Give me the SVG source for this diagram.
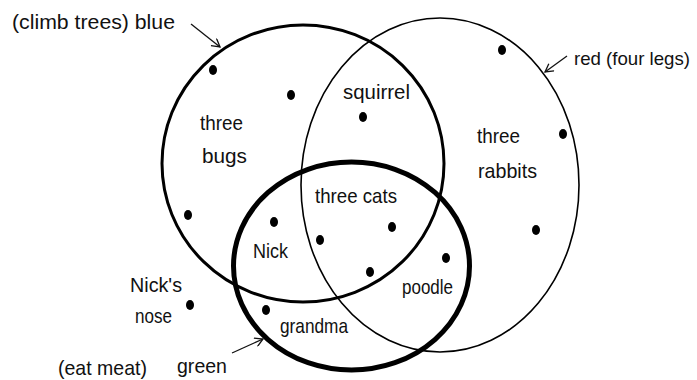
<svg xmlns="http://www.w3.org/2000/svg" width="697" height="380" viewBox="0 0 697 380">
<defs>
<style>
text{font-family:"Liberation Sans","DejaVu Sans",sans-serif;font-size:21px;fill:#111}
.dot{fill:#000}
.arr{fill:none;stroke:#111;stroke-width:1.3}
</style>
<marker id="ah" viewBox="0 0 10 10" refX="9" refY="5" markerWidth="10" markerHeight="10" markerUnits="userSpaceOnUse" orient="auto">
<path d="M1,0.5 L9,5 L1,9.5" fill="none" stroke="#111" stroke-width="1.3"/>
</marker>
</defs>
<rect width="697" height="380" fill="#fff"/>
<g id="set-red"><ellipse cx="440" cy="185" rx="139" ry="167" fill="none" stroke="#000" stroke-width="1.6"/></g>
<g id="set-blue"><ellipse cx="303" cy="163.5" rx="141" ry="138.5" fill="none" stroke="#000" stroke-width="3"/></g>
<g id="set-green"><ellipse cx="351.5" cy="266" rx="118" ry="104" fill="none" stroke="#000" stroke-width="5"/></g>
<g id="connectors">
<line class="arr" x1="191" y1="24" x2="220" y2="47" marker-end="url(#ah)"/>
<line class="arr" x1="567" y1="56" x2="545" y2="72" marker-end="url(#ah)"/>
<line class="arr" x1="232" y1="353" x2="263" y2="339" marker-end="url(#ah)"/>
</g>
<g id="dots">
<ellipse class="dot" cx="213" cy="70" rx="4" ry="5"/>
<ellipse class="dot" cx="291" cy="95" rx="4" ry="5"/>
<ellipse class="dot" cx="502" cy="50" rx="4" ry="5"/>
<ellipse class="dot" cx="363" cy="117" rx="4" ry="5"/>
<ellipse class="dot" cx="563" cy="134" rx="4" ry="5"/>
<ellipse class="dot" cx="188" cy="215" rx="4" ry="5"/>
<ellipse class="dot" cx="274" cy="222" rx="4" ry="5"/>
<ellipse class="dot" cx="320" cy="240" rx="4" ry="5"/>
<ellipse class="dot" cx="392" cy="227" rx="4" ry="5"/>
<ellipse class="dot" cx="536" cy="230" rx="4" ry="5"/>
<ellipse class="dot" cx="446" cy="258" rx="4" ry="5"/>
<ellipse class="dot" cx="370" cy="272" rx="4" ry="5"/>
<ellipse class="dot" cx="190" cy="305" rx="4" ry="5"/>
<ellipse class="dot" cx="266" cy="310" rx="4" ry="5"/>
</g>
<g id="labels">
<text x="12" y="29" textLength="163" lengthAdjust="spacingAndGlyphs">(climb trees) blue</text>
<text x="574" y="65" style="font-size:18.5px" textLength="116" lengthAdjust="spacingAndGlyphs">red (four legs)</text>
<text x="343" y="99" textLength="67" lengthAdjust="spacingAndGlyphs">squirrel</text>
<text x="200" y="130" textLength="43" lengthAdjust="spacingAndGlyphs">three</text>
<text x="202" y="163" textLength="45" lengthAdjust="spacingAndGlyphs">bugs</text>
<text x="477" y="143" textLength="43" lengthAdjust="spacingAndGlyphs">three</text>
<text x="478" y="178" textLength="59" lengthAdjust="spacingAndGlyphs">rabbits</text>
<text x="315" y="203" textLength="82" lengthAdjust="spacingAndGlyphs">three cats</text>
<text x="253" y="258" textLength="35" lengthAdjust="spacingAndGlyphs">Nick</text>
<text x="402" y="294" textLength="51" lengthAdjust="spacingAndGlyphs">poodle</text>
<text x="280" y="333" textLength="68" lengthAdjust="spacingAndGlyphs">grandma</text>
<text x="130" y="292" textLength="52" lengthAdjust="spacingAndGlyphs">Nick's</text>
<text x="135" y="323" textLength="37" lengthAdjust="spacingAndGlyphs">nose</text>
<text x="58" y="375" textLength="89" lengthAdjust="spacingAndGlyphs">(eat meat)</text>
<text x="177" y="373" textLength="50" lengthAdjust="spacingAndGlyphs">green</text>
</g>
</svg>
